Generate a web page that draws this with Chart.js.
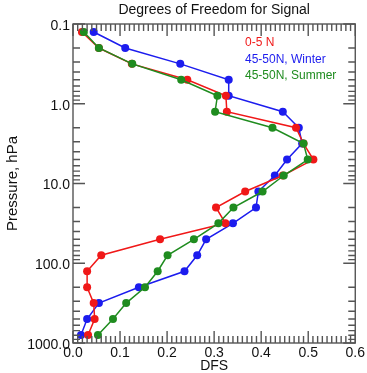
<!DOCTYPE html>
<html>
<head>
<meta charset="utf-8">
<script src="https://cdn.jsdelivr.net/npm/chart.js@4/dist/chart.umd.min.js"></script>
<style>
  html, body { margin: 0; padding: 0; background: #fff; }
  #wrap { width: 367px; height: 373px; }
</style>
</head>
<body>
<div id="wrap"><canvas id="dfs-chart" width="367" height="373"></canvas></div>
<script>
// DATA
const pressure = [0.126, 0.2, 0.316, 0.5, 0.794, 1.26, 2.0, 3.16, 5.01, 7.94,
                  12.6, 20.0, 31.6, 50.1, 79.4, 126, 200, 316, 501, 794];
const tropics = [0.019, 0.055, 0.125, 0.243, 0.325, 0.327, 0.474, 0.490, 0.511, 0.446,
                 0.366, 0.304, 0.324, 0.185, 0.060, 0.030, 0.030, 0.044, 0.046, 0.032];
const midWinter = [0.044, 0.111, 0.228, 0.331, 0.331, 0.446, 0.480, 0.487, 0.455, 0.429,
                   0.394, 0.389, 0.340, 0.283, 0.264, 0.237, 0.140, 0.055, 0.030, 0.017];
const midSummer = [0.023, 0.055, 0.126, 0.230, 0.307, 0.302, 0.424, 0.490, 0.499, 0.448,
                   0.403, 0.341, 0.309, 0.257, 0.201, 0.180, 0.153, 0.113, 0.085, 0.053];
const seriesLabels = ['0-5 N', '45-50N, Winter', '45-50N, Summer'];
const seriesColors = ['#f01818', '#1c1cee', '#1f8c1f'];
const yTicks = [0.1, 1, 10, 100, 1000];

const FONT = "'Liberation Sans', Arial, Helvetica, sans-serif";

function toPoints(values){
    return values.map((v, i) => ({ x: v, y: pressure[i] }));
}

function makeDataset(i, values, order){
    return {
        label: seriesLabels[i],
        data: toPoints(values),
        showLine: true,
        borderColor: seriesColors[i],
        backgroundColor: seriesColors[i],
        borderWidth: 1.5,
        pointRadius: 4,
        pointBorderWidth: 0,
        order: order
    };
}

// box, inward ticks, title and text legend
const framePlugin = {
    id: 'frame',
    afterDraw(chart){
        const ctx = chart.ctx;
        const a = chart.chartArea;
        const xs = chart.scales.x;
        const ys = chart.scales.y;
        ctx.save();
        ctx.strokeStyle = '#555';
        ctx.lineWidth = 1.4;
        ctx.strokeRect(a.left, a.top, a.right - a.left, a.bottom - a.top);

        ctx.beginPath();
        // x ticks, top and bottom
        for (let i = 0; i <= 60; i++) {
            const px = xs.getPixelForValue(i / 100);
            const len = i % 10 === 0 ? 12 : 7;
            ctx.moveTo(px, a.bottom); ctx.lineTo(px, a.bottom - len);
            ctx.moveTo(px, a.top); ctx.lineTo(px, a.top + len);
        }
        // y ticks, left and right
        for (let d = 0; d < yTicks.length; d++) {
            for (let m = 1; m <= 9; m++) {
                if (d === yTicks.length - 1 && m > 1) break;
                const py = ys.getPixelForValue(yTicks[d] * m);
                const len = m === 1 ? 12 : 7;
                ctx.moveTo(a.left, py); ctx.lineTo(a.left + len, py);
                ctx.moveTo(a.right, py); ctx.lineTo(a.right - len, py);
            }
        }
        ctx.stroke();

        // title
        ctx.fillStyle = '#111';
        ctx.font = '14px ' + FONT;
        ctx.textAlign = 'center';
        ctx.textBaseline = 'alphabetic';
        ctx.fillText('Degrees of Freedom for Signal', (a.left + a.right) / 2, 14);

        // legend (coloured text only)
        ctx.font = '12px ' + FONT;
        ctx.textAlign = 'left';
        ctx.textBaseline = 'middle';
        seriesLabels.forEach((lab, i) => {
            ctx.fillStyle = seriesColors[i];
            ctx.fillText(lab, 245, 43 + i * 16.5);
        });
        ctx.restore();
    }
};

const dfsChart = new Chart(document.getElementById('dfs-chart').getContext('2d'), {
    type: 'scatter',
    data: {
        datasets: [
            makeDataset(0, tropics, 1),
            makeDataset(1, midWinter, 2),
            makeDataset(2, midSummer, 0)
        ]
    },
    options: {
        responsive: false,
        animation: false,
        events: [],
        layout: { padding: { top: 24, right: 9, left: 0, bottom: 0 } },
        plugins: {
            legend: { display: false },
            tooltip: { enabled: false }
        },
        scales: {
            x: {
                type: 'linear',
                min: 0,
                max: 0.6,
                grid: { display: false, drawTicks: false },
                border: { display: false },
                ticks: {
                    stepSize: 0.1,
                    padding: 2,
                    color: '#111',
                    font: { family: FONT, size: 14 },
                    maxRotation: 0,
                    callback: v => v.toFixed(1)
                },
                title: {
                    display: true,
                    text: 'DFS',
                    color: '#111',
                    font: { family: FONT, size: 14, lineHeight: 1 },
                    padding: { top: 0, bottom: 0 }
                },
                afterFit: s => { s.height = 30; }
            },
            y: {
                type: 'logarithmic',
                reverse: true,
                min: 0.1,
                max: 1000,
                grid: { display: false, drawTicks: false },
                border: { display: false },
                afterBuildTicks: s => { s.ticks = yTicks.map(v => ({ value: v })); },
                ticks: {
                    padding: 3,
                    labelOffset: 2,
                    color: '#111',
                    font: { family: FONT, size: 14 },
                    callback: v => Number(v).toFixed(1)
                },
                title: {
                    display: true,
                    text: 'Pressure, hPa',
                    color: '#111',
                    font: { family: FONT, size: 15 },
                    padding: { top: 4, bottom: 0 }
                },
                afterFit: s => { s.width = 73; }
            }
        }
    },
    plugins: [framePlugin]
});
</script>
</body>
</html>
